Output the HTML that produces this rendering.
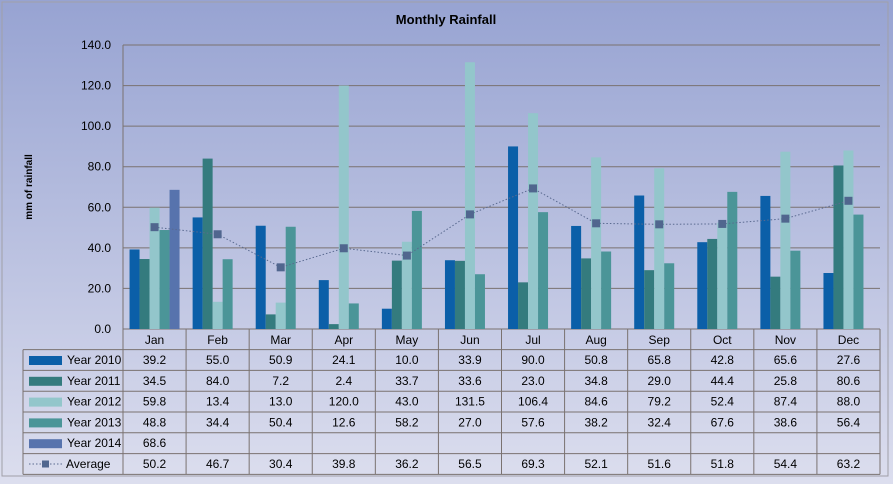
<!DOCTYPE html>
<html><head><meta charset="utf-8"><style>
html,body{margin:0;padding:0;width:893px;height:484px;overflow:hidden;background:#fff}
svg{display:block;font-family:"Liberation Sans",sans-serif}
</style></head><body>
<svg id="chart" width="893" height="484">
<defs><linearGradient id="bg" x1="0" y1="0" x2="0" y2="1"><stop offset="0" stop-color="#97a3d2"/><stop offset="1" stop-color="#dcdeee"/></linearGradient></defs>
<rect x="0" y="0" width="893" height="484" fill="url(#bg)"/>
<rect x="2" y="2" width="886" height="474" fill="none" stroke="#a0a0a8"/>
<text x="446" y="24" text-anchor="middle" font-size="13" font-weight="bold">Monthly Rainfall</text>
<text transform="translate(32,187) rotate(-90)" text-anchor="middle" font-size="10" font-weight="bold">mm of rainfall</text>
<g id="grid"></g><g id="bars"></g><g id="avg"></g><g id="table"></g>
</svg>
<script>
const months=["Jan","Feb","Mar","Apr","May","Jun","Jul","Aug","Sep","Oct","Nov","Dec"];
const seriesNames=["Year 2010","Year 2011","Year 2012","Year 2013","Year 2014"];
const y2010=[39.2,55.0,50.9,24.1,10.0,33.9,90.0,50.8,65.8,42.8,65.6,27.6];
const y2011=[34.5,84.0,7.2,2.4,33.7,33.6,23.0,34.8,29.0,44.4,25.8,80.6];
const y2012=[59.8,13.4,13.0,120.0,43.0,131.5,106.4,84.6,79.2,52.4,87.4,88.0];
const y2013=[48.8,34.4,50.4,12.6,58.2,27.0,57.6,38.2,32.4,67.6,38.6,56.4];
const y2014=[68.6,null,null,null,null,null,null,null,null,null,null,null];
const average=[50.2,46.7,30.4,39.8,36.2,56.5,69.3,52.1,51.6,51.8,54.4,63.2];
const yTicks=[0,20,40,60,80,100,120,140];
const colors=["#0b5fa8","#347b7e","#93c6cb","#4b9598","#5773ad"];
const NS="http://www.w3.org/2000/svg";
const L=123,R=880,T=45,B=329,cw=(R-L)/12;
const yS=v=>B-(v/140)*(B-T);
const xS=i=>L+i*cw;
function mk(p,t,a){const e=document.createElementNS(NS,t);for(const k in a)e.setAttribute(k,a[k]);p.appendChild(e);return e;}
const grid=document.getElementById('grid');
yTicks.forEach(v=>{
 const l=mk(grid,'line',{x1:L,x2:R,y1:yS(v),y2:yS(v),stroke:'#7a7270','stroke-width':1});
 
 
 const t=mk(grid,'text',{x:111,y:yS(v)+4,'text-anchor':'end','font-size':12});
 t.textContent=v.toFixed(1);
 
 
});
const ax=mk(grid,'line',{x1:L,x2:L,y1:T,y2:B,stroke:'#7a7270'});


const all=[y2010,y2011,y2012,y2013,y2014];
const bars=document.getElementById('bars');
const bw=10;
months.forEach((m,i)=>{
 all.forEach((s,k)=>{
  if(s[i]==null)return;
  const x=xS(i)+cw/2-25+k*bw;
  const r=mk(bars,'rect',{x:x,y:yS(s[i]),width:bw,height:B-yS(s[i]),fill:colors[k]});
  
  
 });
});
const avg=document.getElementById('avg');
const pl=mk(avg,'polyline',{points:average.map((v,i)=>(xS(i)+cw/2)+','+yS(v)).join(' '),fill:'none',stroke:'#5a6a90','stroke-width':1,'stroke-dasharray':'1.5 2'});


average.forEach((v,i)=>{
 const r=mk(avg,'rect',{x:xS(i)+cw/2-4,y:yS(v)-4,width:8,height:8,fill:'#50668e'});
 
 
});
const tb=document.getElementById('table');
const rowH=20.8,r0=349.6,TL=23;
const ln=(x1,y1,x2,y2)=>{const l=mk(tb,'line',{x1,y1,x2,y2,stroke:'#7a7270'});};
for(let i=0;i<=12;i++)ln(xS(i),B,xS(i),r0+6*rowH);
for(let r=0;r<=6;r++)ln(TL,r0+r*rowH,R,r0+r*rowH);
ln(TL,r0,TL,r0+6*rowH);
months.forEach((m,i)=>{
 const t=mk(tb,'text',{x:xS(i)+cw/2,y:B+15,'text-anchor':'middle','font-size':12});
 t.textContent=m;
 
 
});
const rowsData=[y2010,y2011,y2012,y2013,y2014,average];
const names=seriesNames.concat(["Average"]);
rowsData.forEach((s,r)=>{
 const yc=r0+r*rowH+rowH/2;
 if(r<5){const sw=mk(tb,'rect',{x:29,y:yc-4,width:33,height:9,fill:colors[r]});}
 else{const d=mk(tb,'line',{x1:29,x2:62,y1:yc,y2:yc,stroke:'#5a6a90','stroke-dasharray':'1.5 2'});
  const mm=mk(tb,'rect',{x:42,y:yc-3.5,width:7,height:7,fill:'#50668e'});}
 const lt=mk(tb,'text',{x:r<5?67:66,y:yc+4,'font-size':12});
 lt.textContent=names[r];
 
 
 s.forEach((v,i)=>{
  if(v==null)return;
  const t=mk(tb,'text',{x:xS(i)+cw/2,y:yc+4,'text-anchor':'middle','font-size':12});
  t.textContent=v.toFixed(1);
  
  
 });
});
</script>
</body></html>
